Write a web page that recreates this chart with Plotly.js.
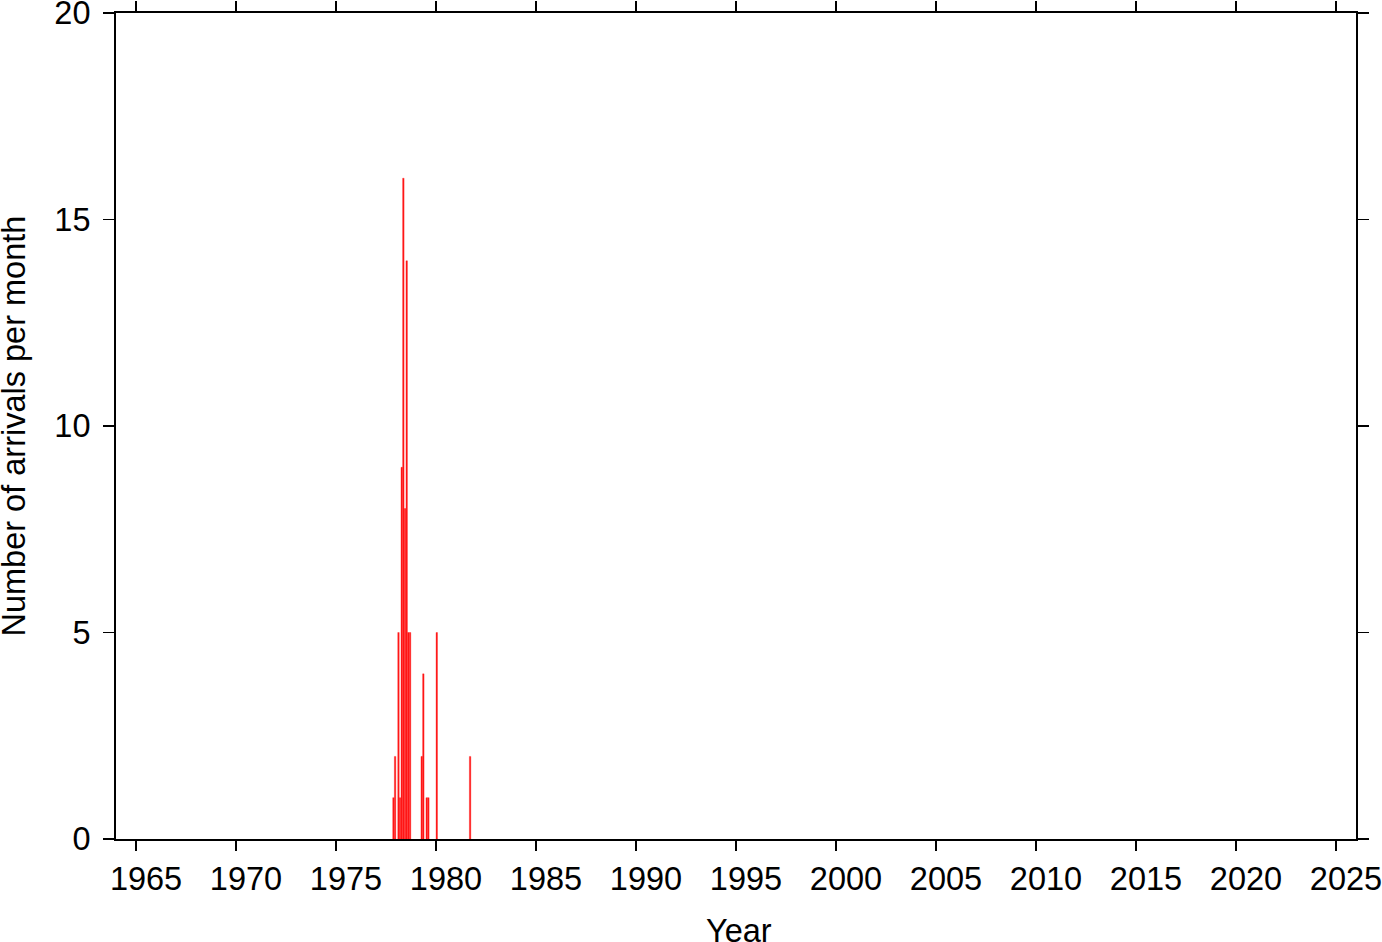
<!DOCTYPE html>
<html>
<head>
<meta charset="utf-8">
<script src="https://cdn.plot.ly/plotly-3.0.1.min.js"></script>
<style>html,body{margin:0;padding:0;background:#fff;}#chart{width:1382px;height:942px;}</style>
</head>
<body>
<div id="chart"></div>
<script>
const months = ['1977-11','1977-12','1978-02','1978-03','1978-04','1978-05','1978-06','1978-07','1978-08','1978-09','1979-04','1979-05','1979-07','1979-08','1980-01','1981-09'];
const counts = [1,2,5,1,9,16,8,14,5,5,2,4,1,1,5,2];
const yTicks = [0,5,10,15,20];
const xTitle = 'Year';
const yTitle = 'Number of arrivals per month';

const xDates = months.map(m => m + '-15');
const DAY = 86400000;

const trace = {
  type: 'bar',
  x: xDates,
  y: counts,
  width: xDates.map(() => 27 * DAY),
  marker: {color: '#ff1a1a', line: {width: 0.3, color: '#ff0000'}},
  hoverinfo: 'x+y'
};

const font = {family: '"Liberation Sans", Arial, Helvetica, sans-serif', size: 32.5, color: '#000'};

const layout = {
  width: 1382, height: 942,
  margin: {l: 116, r: 26, t: 13, b: 103, pad: 0},
  paper_bgcolor: '#fff', plot_bgcolor: '#fff',
  font: font,
  showlegend: false,
  bargap: 0,
  xaxis: {
    type: 'date',
    range: ['1964-01-01', '2026-01-01'],
    tick0: '1965-01-01', dtick: 'M60', tickformat: '%Y',
    ticks: 'outside', ticklen: 10, tickwidth: 1.5, tickcolor: '#000',
    showline: true, linewidth: 2, linecolor: '#000', mirror: 'ticks',
    showgrid: false, zeroline: false,
    tickfont: font,
    ticklabelstandoff: 0,
    ticklabelshift: 10,
    ticklabeloverflow: 'allow'
  },
  yaxis: {
    range: [0, 20],
    tickvals: yTicks, ticktext: yTicks.map(String),
    ticks: 'outside', ticklen: 11, tickwidth: 1.5, tickcolor: '#000',
    showline: true, linewidth: 2, linecolor: '#000', mirror: 'ticks',
    showgrid: false, zeroline: false,
    tickfont: font,
    ticklabelstandoff: 6,
    ticklabeloverflow: 'allow'
  },
  annotations: [
    {text: xTitle, xref: 'paper', yref: 'paper', x: 0.5, y: 0, xshift: 3, yshift: -92,
     xanchor: 'center', yanchor: 'middle', showarrow: false, font: font},
    {text: yTitle, xref: 'paper', yref: 'paper', x: 0, y: 0.5, xshift: -102.5, textangle: -90,
     xanchor: 'center', yanchor: 'middle', showarrow: false, font: font}
  ]
};

Plotly.newPlot('chart', [trace], layout, {displayModeBar: false, staticPlot: true});
</script>
</body>
</html>
